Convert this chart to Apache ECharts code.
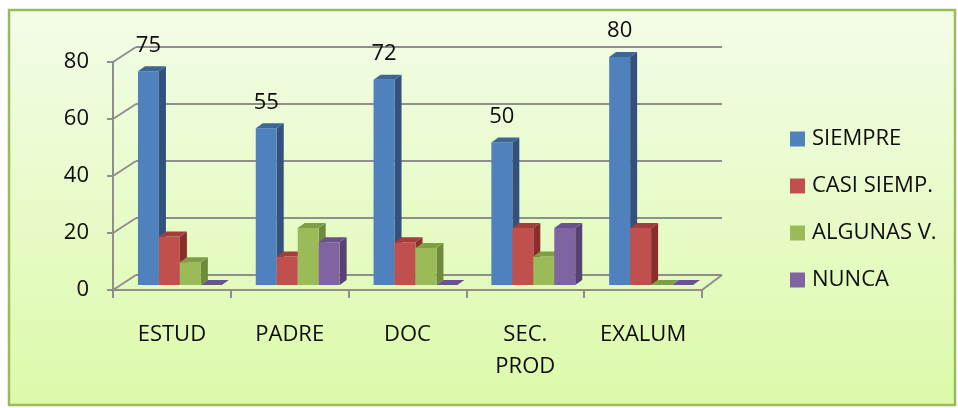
<!DOCTYPE html>
<html>
<head>
<meta charset="utf-8">
<script src="https://cdn.jsdelivr.net/npm/echarts@6/dist/echarts.min.js"></script>
<style>
  html, body { margin: 0; padding: 0; background: #fff; }
  #chart { width: 958px; height: 408px; }
</style>
</head>
<body>
<div id="chart"></div>
<script>
// data
var categories = ['ESTUD', 'PADRE', 'DOC', 'SEC.\nPROD', 'EXALUM']
var seriesNames = ['SIEMPRE', 'CASI SIEMP.', 'ALGUNAS V.', 'NUNCA']
var siempre = [75, 55, 72, 50, 80]
var casiSiempre = [17, 10, 15, 20, 20]
var algunasVeces = [8, 20, 13, 10, 0]
var nunca = [0, 15, 0, 20, 0]
var yTicks = [0, 20, 40, 60, 80]

var seriesValues = [siempre, casiSiempre, algunasVeces, nunca]
// front, side, top face colours
var faceColors = [
  ['#4f81bd', '#33517a', '#3d6697'],
  ['#c0504d', '#8a2e2c', '#a23e3b'],
  ['#9bbb59', '#6e8a3c', '#809f45'],
  ['#8064a2', '#574274', '#6a5190']
]

var FONT = '"Open Sans", "Liberation Sans", sans-serif'
var TEXT_COLOR = '#0d0d0d'
var AXIS_COLOR = '#8e8e8e'
// front plane of the box
var FRONT_LEFT = 113, FRONT_WIDTH = 589
// depth of the 3D box (back wall offset) and of the bars
var WALL_DX = 23, WALL_DY = -15
var BAR_OX = 8, BAR_OY = -5, BAR_DX = 7, BAR_DY = -5

var chart = echarts.init(document.getElementById('chart'))

function barRenderer(s) {
  return function (params, api) {
    var base = api.coord([api.value(0), 0])
    var top = api.coord([api.value(0), api.value(1)])
    var bw = api.size([1, 0])[0] * 0.178
    var x0 = base[0] + BAR_OX - 2 * bw + s * bw
    var yb = base[1] + BAR_OY
    var yt = top[1] + BAR_OY
    var c = faceColors[s]
    var children = [
      {
        type: 'polygon',
        shape: { points: [[x0 + bw, yt], [x0 + bw + BAR_DX, yt + BAR_DY], [x0 + bw + BAR_DX, yb + BAR_DY], [x0 + bw, yb]] },
        style: { fill: c[1] }
      },
      {
        type: 'rect',
        shape: { x: x0, y: yt, width: bw, height: yb - yt },
        style: { fill: c[0] }
      },
      {
        type: 'polygon',
        shape: { points: [[x0, yt], [x0 + BAR_DX, yt + BAR_DY], [x0 + bw + BAR_DX, yt + BAR_DY], [x0 + bw, yt]] },
        style: { fill: c[2] }
      }
    ]
    if (s === 0) {
      children.push({
        type: 'text',
        style: {
          text: String(api.value(1)),
          x: x0 + bw / 2,
          y: yt - 26,
          align: 'center',
          verticalAlign: 'middle',
          font: '22px ' + FONT,
          fill: TEXT_COLOR
        }
      })
    }
    return { type: 'group', children: children }
  }
}

var barSeries = seriesValues.map(function (vals, s) {
  return {
    name: seriesNames[s],
    type: 'custom',
    xAxisIndex: 0,
    yAxisIndex: 0,
    itemStyle: { color: faceColors[s][0] },
    data: vals.map(function (v, i) { return [i, v] }),
    renderItem: barRenderer(s),
    z: 5
  }
})

chart.setOption({
  animation: false,
  legend: {
    orient: 'vertical',
    left: 790,
    top: 128,
    padding: 0,
    itemWidth: 15,
    itemHeight: 15,
    itemGap: 25,
    icon: 'rect',
    data: seriesNames,
    textStyle: { fontFamily: FONT, fontSize: 22, lineHeight: 22, color: TEXT_COLOR, padding: [0, 0, 0, 2] }
  },
  grid: [
    { left: FRONT_LEFT, top: 62, width: FRONT_WIDTH, height: 228 },   // front plane
    { left: 136, top: 47, width: 586, height: 228 }                   // back wall
  ],
  xAxis: [{
    type: 'category',
    gridIndex: 0,
    data: categories,
    axisLine: { lineStyle: { color: AXIS_COLOR, width: 2 } },
    axisTick: { show: true, length: 8, interval: 0, lineStyle: { color: AXIS_COLOR, width: 2 } },
    axisLabel: { margin: 29, interval: 0, fontFamily: FONT, fontSize: 22, lineHeight: 32, color: TEXT_COLOR },
    splitLine: { show: false }
  }, {
    type: 'category',
    gridIndex: 1,
    data: categories,
    show: false
  }],
  yAxis: [{
    type: 'value',
    gridIndex: 0,
    min: 0,
    max: 80,
    interval: 20,
    axisLine: { show: true, lineStyle: { color: AXIS_COLOR, width: 2 } },
    axisTick: { show: true, length: 6, lineStyle: { color: AXIS_COLOR, width: 2 } },
    axisLabel: { margin: 24, fontFamily: FONT, fontSize: 22, color: TEXT_COLOR },
    splitLine: { show: false }
  }, {
    type: 'value',
    gridIndex: 1,
    min: 0,
    max: 80,
    interval: 20,
    axisLine: { show: false },
    axisTick: { show: false },
    axisLabel: { show: false },
    splitLine: { show: true, lineStyle: { color: AXIS_COLOR, width: 2 } }
  }],
  series: barSeries
})

// diagonal edges joining the front axis to the back wall, on their own top layer
var edges = yTicks.map(function (v) {
  var y = chart.convertToPixel({ yAxisIndex: 0 }, v)
  return {
    type: 'polyline',
    zlevel: 1,
    z: 100,
    silent: true,
    shape: { points: [[FRONT_LEFT, y], [FRONT_LEFT + WALL_DX, y + WALL_DY]] },
    style: { stroke: AXIS_COLOR, lineWidth: 2, fill: null }
  }
})
var yZero = chart.convertToPixel({ yAxisIndex: 0 }, 0)
var xRight = FRONT_LEFT + FRONT_WIDTH
edges.push({
  type: 'polyline',
  zlevel: 1,
  z: 100,
  silent: true,
  shape: { points: [[xRight, yZero], [xRight + WALL_DX - 3, yZero + WALL_DY]] },
  style: { stroke: AXIS_COLOR, lineWidth: 2, fill: null }
})

chart.setOption({
  graphic: [{
    type: 'rect',
    z: -10,
    silent: true,
    shape: { x: 9, y: 10, width: 946, height: 395 },
    style: {
      fill: new echarts.graphic.LinearGradient(0, 0, 0, 1, [
        { offset: 0, color: '#f3fce8' },
        { offset: 1, color: '#dcfaa9' }
      ]),
      stroke: '#9bbb59',
      lineWidth: 2.5
    }
  }].concat(edges)
})
</script>
</body>
</html>
